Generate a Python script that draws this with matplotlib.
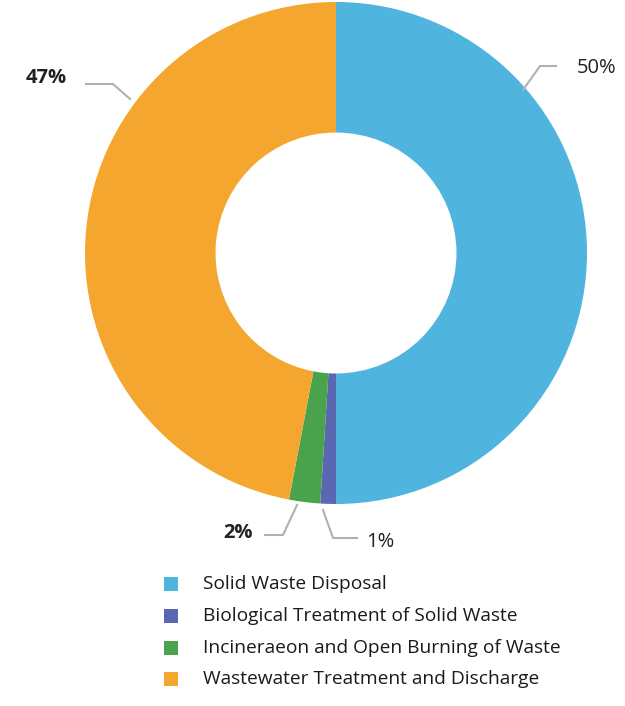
import matplotlib
matplotlib.use("Agg")
import matplotlib.pyplot as plt
from matplotlib.patches import Rectangle

plt.rcParams['font.family'] = ['Open Sans', 'DejaVu Sans']

categories = ["Solid Waste Disposal",
              "Biological Treatment of Solid Waste",
              "Incineraeon and Open Burning of Waste",
              "Wastewater Treatment and Discharge"]
shares = [50, 1, 2, 47]
pct_labels = ["50%", "1%", "2%", "47%"]
colors = ["#4fb4de", "#5a68b2", "#4aa24c", "#f5a62e"]

W, H = 625, 706
fig = plt.figure(figsize=(W / 100, H / 100), dpi=100)
ax = fig.add_axes([0, 0, 1, 1])

cx, cy, r = 336, H - 253, 251
ax.pie(shares, colors=colors, startangle=90, counterclock=False,
       center=(cx, cy), radius=r, frame=True,
       wedgeprops=dict(width=r * 0.52, linewidth=0))
ax.set_xlim(0, W)
ax.set_ylim(0, H)
ax.set_aspect("equal")
ax.axis("off")

# leader lines (pixel coords, y from top) and label centres
leaders = [
    [(523, 90), (540, 66), (556, 66)],
    [(323, 510), (333, 538), (357, 538)],
    [(297, 505), (283, 535), (265, 535)],
    [(130, 99), (113, 84), (86, 84)],
]
label_pos = [(597, 68), (380, 542), (238, 533), (46, 78)]
label_bold = [False, False, True, True]
for pts, (lx, ly), txt, b in zip(leaders, label_pos, pct_labels, label_bold):
    ax.plot([p[0] for p in pts], [H - p[1] for p in pts], color="#b0b0b0", lw=1.5)
    ax.text(lx, H - ly, txt, fontsize=14.5,
            fontweight="bold" if b else "medium", color="#222222",
            ha="center", va="center")

# legend
rows_y = [584, 616, 648, 679]
for name, c, y in zip(categories, colors, rows_y):
    ax.add_patch(Rectangle((164, H - y - 7), 14, 14, color=c, lw=0))
    ax.text(203, H - y, name, fontsize=13.8, color="#1a1a1a", fontweight="medium",
            va="center", ha="left")

fig.savefig("out.png", dpi=100)
